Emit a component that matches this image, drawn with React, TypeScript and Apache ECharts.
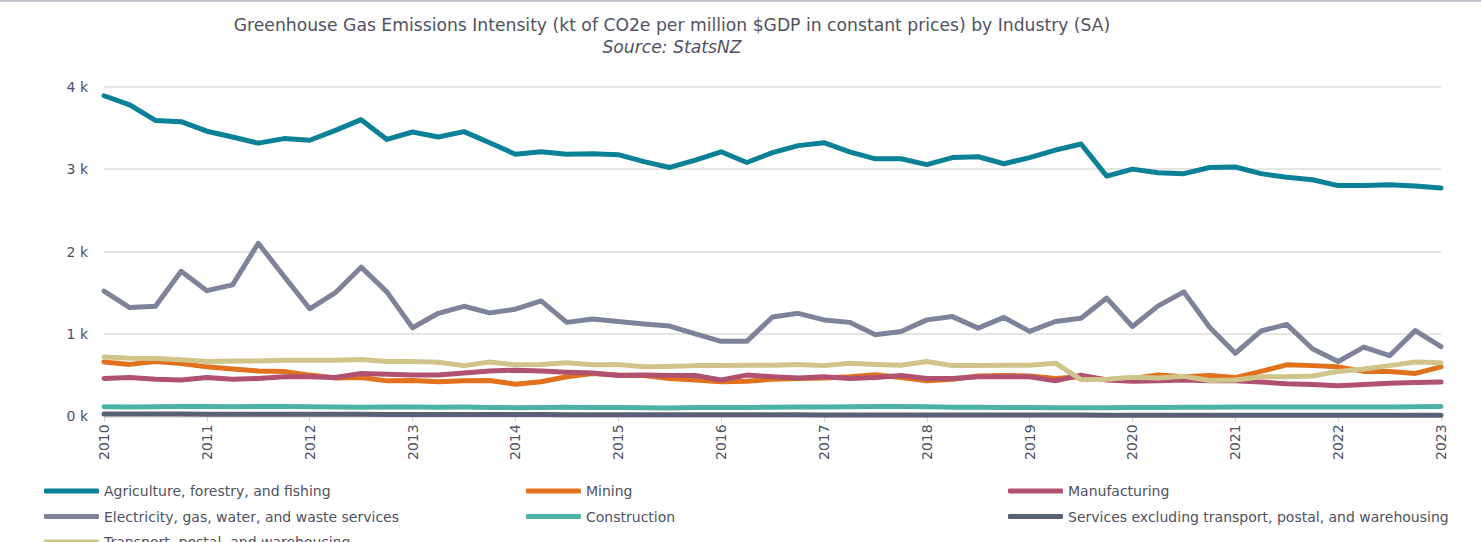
import { useEffect, useRef } from "react";
import * as echarts from "echarts";

const TITLE =
  "Greenhouse Gas Emissions Intensity (kt of CO2e per million $GDP in constant prices) by Industry (SA)";
const SUBTITLE = "Source: StatsNZ";

const quarters: string[] = [
  "2010 Q1", "2010 Q2", "2010 Q3", "2010 Q4",
  "2011 Q1", "2011 Q2", "2011 Q3", "2011 Q4",
  "2012 Q1", "2012 Q2", "2012 Q3", "2012 Q4",
  "2013 Q1", "2013 Q2", "2013 Q3", "2013 Q4",
  "2014 Q1", "2014 Q2", "2014 Q3", "2014 Q4",
  "2015 Q1", "2015 Q2", "2015 Q3", "2015 Q4",
  "2016 Q1", "2016 Q2", "2016 Q3", "2016 Q4",
  "2017 Q1", "2017 Q2", "2017 Q3", "2017 Q4",
  "2018 Q1", "2018 Q2", "2018 Q3", "2018 Q4",
  "2019 Q1", "2019 Q2", "2019 Q3", "2019 Q4",
  "2020 Q1", "2020 Q2", "2020 Q3", "2020 Q4",
  "2021 Q1", "2021 Q2", "2021 Q3", "2021 Q4",
  "2022 Q1", "2022 Q2", "2022 Q3", "2022 Q4",
  "2023 Q1",
];

const agriculture: number[] = [
  3890, 3780, 3590, 3575, 3460, 3390, 3315, 3370, 3350, 3470, 3600, 3360, 3450, 3390,
  3455, 3320, 3180, 3210, 3180, 3185, 3175, 3090, 3020, 3110, 3210, 3080, 3200,
  3285, 3320, 3210, 3125, 3125, 3055, 3140, 3150, 3065, 3140, 3230, 3305, 2915,
  3000, 2955, 2945, 3020, 3025, 2945, 2900, 2870, 2800, 2800, 2810, 2795, 2770,
];

const mining: number[] = [
  660, 630, 665, 640, 600, 575, 550, 545, 500, 465, 470, 430, 435, 420,
  430, 435, 390, 420, 480, 520, 500, 495, 460, 440, 420, 425,
  450, 460, 465, 480, 505, 470, 430, 450, 490, 495, 490, 460, 480, 445,
  460, 500, 480, 495, 470, 545, 625, 615, 600, 545, 545, 520, 600,
];

const manufacturing: number[] = [
  460, 470, 450, 440, 470, 450, 460, 480, 480, 470, 520, 510, 500, 500,
  525, 550, 560, 550, 535, 525, 495, 500, 495, 495, 440, 500, 480,
  465, 480, 460, 470, 495, 460, 460, 480, 480, 480, 430, 500, 440,
  425, 430, 440, 430, 430, 415, 395, 385, 370, 385, 400, 410, 415,
];

const electricity: number[] = [
  1520, 1320, 1335, 1760, 1525, 1595, 2100, 1700, 1305, 1500,
  1810, 1510, 1075, 1250, 1335, 1255, 1300, 1400, 1140, 1180,
  1150, 1120, 1095, 1000, 910, 910, 1205, 1250, 1170, 1140,
  990, 1030, 1170, 1210, 1070, 1200, 1030, 1150, 1190, 1435,
  1090, 1340, 1510, 1080, 765, 1035, 1115, 820, 665, 840,
  735, 1040, 845,
];

const construction: number[] = [
  115, 112, 115, 118, 118, 115, 118, 118, 115, 112, 110, 112, 112, 110,
  112, 108, 105, 108, 110, 108, 108, 105, 102, 108, 108, 108, 110,
  112, 112, 115, 118, 118, 115, 110, 110, 108, 108, 105, 105, 105,
  108, 108, 110, 110, 112, 112, 112, 112, 112, 112, 112, 115, 118,
];

const services: number[] = [
  28, 28, 27, 27, 26, 26, 25, 25, 24, 24, 24, 23, 23, 22,
  22, 21, 21, 21, 20, 20, 20, 19, 19, 19, 18, 18, 18,
  18, 17, 17, 17, 17, 16, 16, 16, 16, 15, 15, 15, 14,
  14, 14, 14, 13, 13, 13, 13, 13, 12, 12, 12, 12, 12,
];

const transport: number[] = [
  720, 705, 700, 685, 665, 672, 672, 680, 680, 680, 688, 665, 665, 655,
  615, 660, 625, 630, 650, 625, 630, 600, 605, 615, 615, 620, 620,
  630, 615, 645, 630, 620, 665, 615, 615, 620, 620, 645, 445, 450,
  475, 465, 485, 435, 440, 480, 480, 490, 545, 575, 615, 660, 650,
];

const names = {
  agriculture: "Agriculture, forestry, and fishing",
  mining: "Mining",
  manufacturing: "Manufacturing",
  electricity: "Electricity, gas, water, and waste services",
  construction: "Construction",
  services: "Services excluding transport, postal, and warehousing",
  transport: "Transport, postal, and warehousing",
};

const colors = {
  agriculture: "#0b8198",
  mining: "#e2711d",
  manufacturing: "#b0516f",
  electricity: "#7e8399",
  construction: "#4cb3a4",
  services: "#5a6177",
  transport: "#cfc58a",
};

const FONT = "DejaVu Sans";
const TEXT_COLOR = "#4f5261";
const CHART_HEIGHT = 570;

function lineSeries(name: string, data: number[], color: string) {
  return {
    type: "line",
    name,
    data,
    color,
    symbol: "none",
    showSymbol: false,
    lineStyle: { width: 5, color, cap: "round", join: "round" },
    itemStyle: { color },
    emphasis: { disabled: true },
  };
}

export default function App() {
  const ref = useRef<HTMLDivElement>(null);

  useEffect(() => {
    if (!ref.current) return;
    const chart = echarts.init(ref.current, undefined, { renderer: "svg" });

    const legendBase = {
      orient: "vertical",
      icon: "roundRect",
      itemWidth: 55,
      itemHeight: 5,
      itemGap: 9.5,
      padding: 0,
      itemStyle: { borderWidth: 0 },
      textStyle: { fontSize: 14, color: TEXT_COLOR, lineHeight: 16, fontFamily: FONT },
      selectedMode: false,
    };

    const option = {
      animation: false,
      backgroundColor: "#ffffff",
      textStyle: { fontFamily: FONT },
      title: {
        text: TITLE,
        subtext: SUBTITLE,
        left: 672,
        top: 16,
        textAlign: "center",
        padding: 0,
        itemGap: 5,
        textStyle: { fontSize: 17.2, fontWeight: "normal", color: TEXT_COLOR, fontFamily: FONT },
        subtextStyle: { fontSize: 17.2, fontStyle: "italic", color: TEXT_COLOR, fontFamily: FONT },
      },
      graphic: [
        {
          type: "rect",
          left: 0,
          top: 0,
          shape: { x: 0, y: 0, width: 1481, height: 2 },
          style: { fill: "#bcc0ca" },
          silent: true,
        },
      ],
      grid: {
        left: 104,
        right: 40,
        top: 86.7,
        bottom: CHART_HEIGHT - 416.3,
        containLabel: false,
        outerBoundsMode: "none",
      },
      xAxis: {
        type: "category",
        data: quarters,
        boundaryGap: false,
        axisLine: { show: false },
        axisTick: { show: true, interval: 3, length: 5, lineStyle: { color: "#cccccc" } },
        axisLabel: {
          interval: 3,
          rotate: 90,
          formatter: (v: string) => v.slice(0, 4),
          color: TEXT_COLOR,
          fontSize: 14,
          margin: 8,
          fontFamily: FONT,
        },
        splitLine: { show: false },
      },
      yAxis: {
        type: "value",
        min: 0,
        max: 4000,
        interval: 1000,
        axisLine: { show: false },
        axisTick: { show: false },
        axisLabel: {
          formatter: (v: number) => `${v / 1000} k`,
          color: TEXT_COLOR,
          fontSize: 14,
          margin: 16,
          fontFamily: FONT,
        },
        splitLine: { lineStyle: { color: "#dddddd", width: 1.5 } },
      },
      legend: [
        { ...legendBase, left: 44, top: 483, data: [names.agriculture, names.electricity, names.transport] },
        { ...legendBase, left: 526, top: 483, data: [names.mining, names.construction] },
        { ...legendBase, left: 1008, top: 483, data: [names.manufacturing, names.services] },
      ],
      series: [
        lineSeries(names.agriculture, agriculture, colors.agriculture),
        lineSeries(names.mining, mining, colors.mining),
        lineSeries(names.manufacturing, manufacturing, colors.manufacturing),
        lineSeries(names.electricity, electricity, colors.electricity),
        lineSeries(names.construction, construction, colors.construction),
        lineSeries(names.services, services, colors.services),
        lineSeries(names.transport, transport, colors.transport),
      ],
    };

    chart.setOption(option as any);
    return () => {
      chart.dispose();
    };
  }, []);

  return (
    <div
      ref={ref}
      style={{ position: "absolute", left: 0, top: 0, width: 1481, height: CHART_HEIGHT }}
    />
  );
}
